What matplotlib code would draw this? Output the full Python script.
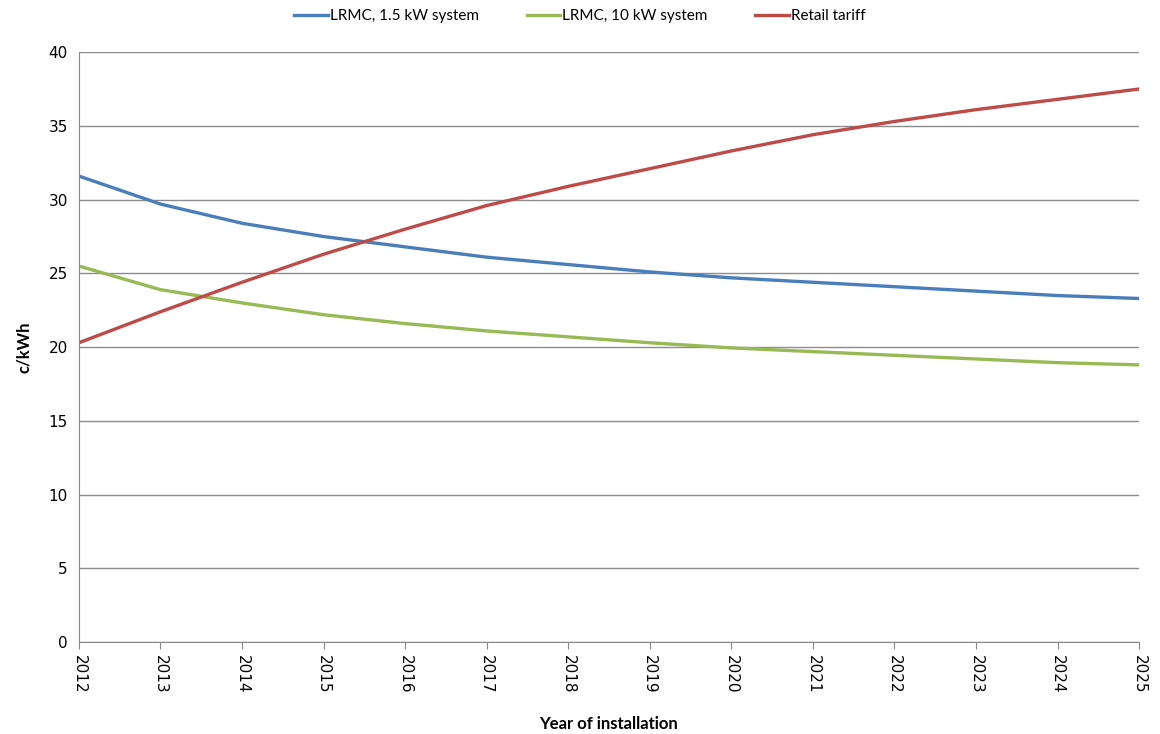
import matplotlib.pyplot as plt

years = list(range(2012, 2026))
lrmc_small = [31.6, 29.7, 28.4, 27.5, 26.8, 26.1, 25.6, 25.1, 24.7, 24.4, 24.1, 23.8, 23.5, 23.3]
lrmc_large = [25.5, 23.9, 23.0, 22.2, 21.6, 21.1, 20.7, 20.3, 19.95, 19.7, 19.45, 19.2, 18.95, 18.8]
retail = [20.3, 22.4, 24.4, 26.3, 28.0, 29.6, 30.9, 32.1, 33.3, 34.4, 35.3, 36.1, 36.8, 37.5]

fig = plt.figure(figsize=(11.6, 7.34), dpi=100)
ax = fig.add_axes([0.068, 0.125, 0.914, 0.804])

ax.plot(years, lrmc_small, color='#4a7ebb', lw=2.4, label='LRMC, 1.5 kW system')
ax.plot(years, lrmc_large, color='#98b954', lw=2.4, label='LRMC, 10 kW system')
ax.plot(years, retail, color='#be4b48', lw=2.4, label='Retail tariff')

ax.set_xlim(2012, 2025)
ax.set_ylim(0, 40)
ax.set_yticks(range(0, 41, 5))
ax.set_xticks(years)
ax.set_xticklabels([str(y) for y in years], rotation=-90, fontsize=11)
ax.tick_params(axis='y', labelsize=11, length=0, pad=8)
ax.tick_params(axis='x', length=5, color='#888888', pad=4)
ax.grid(axis='y', color='#8c8c8c', lw=1)
ax.set_axisbelow(True)
for side in ('top', 'right'):
    ax.spines[side].set_visible(False)
ax.spines['left'].set_color('#888888')
ax.spines['bottom'].set_color('#888888')

ax.set_xlabel('Year of installation', fontsize=12, fontweight='bold', family='Lato', labelpad=16)
ax.set_ylabel('c/kWh', fontsize=12, fontweight='bold', family='Lato', labelpad=12)

fig.legend(*ax.get_legend_handles_labels(), loc='center', bbox_to_anchor=(0.5, 1 - 16 / 734),
           ncol=3, frameon=False, prop={'family': 'Lato', 'size': 11},
           handlelength=2.2, handletextpad=0.15, columnspacing=3.1)

fig.savefig('out.png')
